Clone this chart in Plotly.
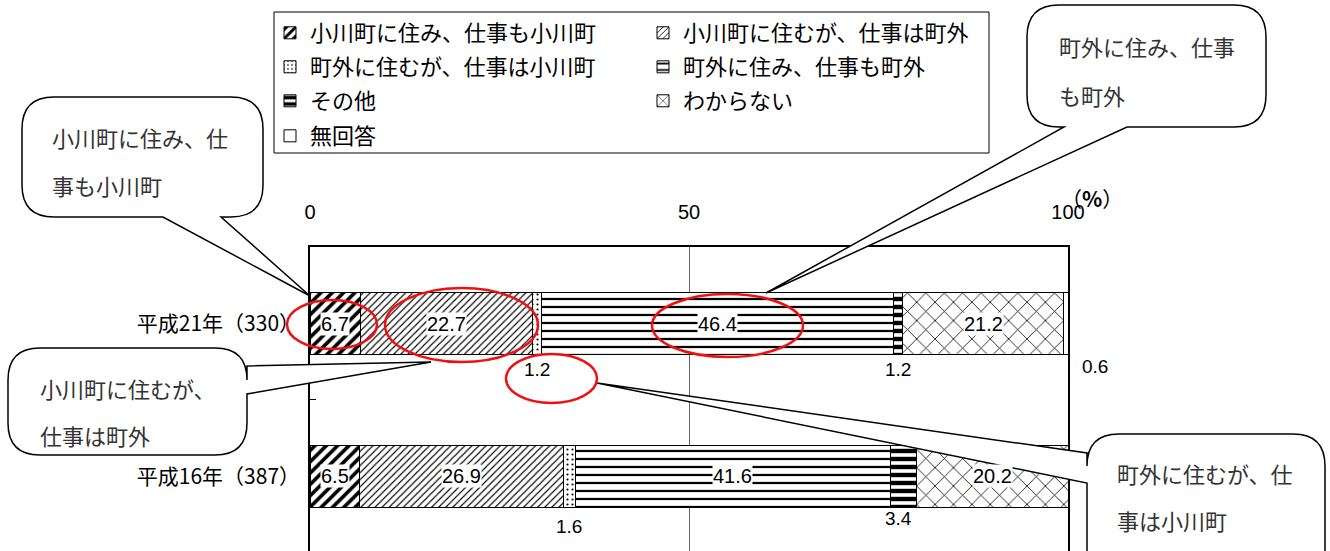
import plotly.graph_objects as go

# ---------------- data ----------------
categories = ["平成21年（330）", "平成16年（387）"]
series_names = [
    "小川町に住み、仕事も小川町",
    "小川町に住むが、仕事は町外",
    "町外に住むが、仕事は小川町",
    "町外に住み、仕事も町外",
    "その他",
    "わからない",
    "無回答",
]
h21_values = [6.7, 22.7, 1.2, 46.4, 1.2, 21.2, 0.6]
h16_values = [6.5, 26.9, 1.6, 41.6, 3.4, 20.2, 0.0]
x_ticks = [0, 50, 100]

# ---------------- style ----------------
patterns = [
    dict(shape="/", size=8, solidity=0.45),
    dict(shape="/", size=5, solidity=0.22),
    dict(shape=".", size=5, solidity=0.15),
    dict(shape="-", size=8, solidity=0.28),
    dict(shape="-", size=8, solidity=0.55),
    dict(shape="x", size=13, solidity=0.12),
    dict(shape="", size=8, solidity=0.2),
]
legend_ids = ["legend", "legend", "legend2", "legend2", "legend3", "legend3", "legend4"]
# pixel offsets for labels placed outside small segments: (xshift, yshift)
outside_offsets = {
    (0, 2): (0, -46), (0, 4): (0, -46), (0, 6): (29, -43),
    (1, 2): (0, -50), (1, 4): (-5, -42),
}

W, H = 1330, 551
L, R, T, B = 310, 1068, 247, 551


def px(x):
    return (x - L) / (R - L)


def py(y):
    return (B - y) / (B - T)


NUM_FONT = "Liberation Sans Narrow, Liberation Sans, Arial, sans-serif"
JP_FONT = "Noto Sans CJK JP, sans-serif"

fig = go.Figure()
values_by_cat = [h21_values, h16_values]
for i, name in enumerate(series_names):
    fig.add_trace(go.Bar(
        x=[h21_values[i], h16_values[i]],
        y=categories,
        orientation="h",
        name=name,
        width=0.4,
        legend=legend_ids[i],
        marker=dict(
            color="white",
            line=dict(color="black", width=1),
            pattern=dict(fgcolor="black", bgcolor="white", fillmode="replace", **patterns[i]),
        ),
        hoverinfo="skip",
    ))

annotations = []
for c, vals in enumerate(values_by_cat):
    cum = 0.0
    for i, v in enumerate(vals):
        center = cum + v / 2
        cum += v
        if v <= 0:
            continue
        if v > 5:
            annotations.append(dict(
                x=center, y=categories[c], xref="x", yref="y", text=f"{v:.1f}",
                showarrow=False, bgcolor="white", borderpad=0,
                font=dict(family=NUM_FONT, size=20, color="black")))
        else:
            xs, ys = outside_offsets.get((c, i), (0, -46))
            annotations.append(dict(
                x=center, y=categories[c], xref="x", yref="y", text=f"{v:.1f}",
                showarrow=False, xshift=xs, yshift=ys,
                font=dict(family=NUM_FONT, size=19, color="black")))

annotations.append(dict(x=px(1092), y=py(198), xref="paper", yref="paper", text="（<b>%</b>）",
                        xanchor="center", yanchor="middle",
                        showarrow=False, font=dict(family=JP_FONT, size=21, color="black")))

# speech bubbles
def bubble(x0, y0, x1, y1, r, side, b1, b2, tip):
    pts = []
    def M(x, y):
        pts.append(f"M{px(x):.5f},{py(y):.5f}")
    def Lto(x, y):
        pts.append(f"L{px(x):.5f},{py(y):.5f}")
    def Q(cx, cy, x, y):
        pts.append(f"Q{px(cx):.5f},{py(cy):.5f} {px(x):.5f},{py(y):.5f}")
    M(x0 + r, y0)
    if side == "top":
        Lto(b1, y0); Lto(*tip); Lto(b2, y0)
    Lto(x1 - r, y0); Q(x1, y0, x1, y0 + r)
    if side == "right":
        Lto(x1, b1); Lto(*tip); Lto(x1, b2)
    Lto(x1, y1 - r); Q(x1, y1, x1 - r, y1)
    if side == "bottom":
        Lto(b2, y1); Lto(*tip); Lto(b1, y1)
    Lto(x0 + r, y1); Q(x0, y1, x0, y1 - r)
    if side == "left":
        Lto(x0, b2); Lto(*tip); Lto(x0, b1)
    Lto(x0, y0 + r); Q(x0, y0, x0 + r, y0)
    pts.append("Z")
    return dict(type="path", path=" ".join(pts), xref="paper", yref="paper",
                fillcolor="white", line=dict(color="black", width=1.5), layer="above")


shapes = [
    bubble(22, 97, 263, 217, 32, "bottom", 163, 221, (310, 296)),
    bubble(1027, 5, 1266, 127, 32, "bottom", 1064, 1127, (766, 293)),
    bubble(8, 348, 247, 455, 32, "right", 366, 394, (431, 362)),
    bubble(1087, 434, 1325, 600, 32, "left", 453, 483, (597, 383)),
]
bubble_texts = [
    (50, 137, "小川町に住み、仕"), (50, 185, "事も小川町"),
    (1057, 46, "町外に住み、仕事"), (1057, 95, "も町外"),
    (38, 388, "小川町に住むが、"), (38, 435, "仕事は町外"),
    (1115, 473, "町外に住むが、仕"), (1115, 520, "事は小川町"),
]
for x, y, t in bubble_texts:
    annotations.append(dict(x=px(x), y=py(y), xref="paper", yref="paper", text=t,
                            showarrow=False, xanchor="left", yanchor="middle",
                            font=dict(family=JP_FONT, size=22, color="#333333")))

# red ellipses
for x0, y0, x1, y1 in [(287, 300, 377, 349), (385, 288, 538, 362), (652, 294, 803, 357), (506, 354, 597, 403)]:
    shapes.append(dict(type="circle", xref="paper", yref="paper",
                       x0=px(x0), x1=px(x1), y0=py(y1), y1=py(y0),
                       line=dict(color="#ee1111", width=2.5), layer="above"))

# legend frame
shapes.append(dict(type="rect", xref="paper", yref="paper", x0=px(274), x1=px(989), y0=py(153), y1=py(12),
                   line=dict(color="black", width=1), fillcolor="rgba(0,0,0,0)", layer="below"))

legend_common = dict(orientation="h", xanchor="left", yanchor="middle", entrywidth=328,
                     entrywidthmode="pixels", bgcolor="rgba(0,0,0,0)", borderwidth=0,
                     font=dict(family=JP_FONT, size=22, color="black"), itemclick=False,
                     itemdoubleclick=False, traceorder="normal")
lx = px(270)

fig.update_layout(
    width=W, height=H,
    margin=dict(l=L, r=W - R, t=T, b=H - B, pad=0),
    paper_bgcolor="white", plot_bgcolor="white",
    barmode="stack",
    showlegend=True,
    legend=dict(x=lx, y=py(33), **legend_common),
    legend2=dict(x=lx, y=py(67), **legend_common),
    legend3=dict(x=lx, y=py(101), **legend_common),
    legend4=dict(x=lx, y=py(136), **legend_common),
    xaxis=dict(range=[0, 100], side="top", tickvals=x_ticks, ticks="",
               showline=True, linecolor="black", linewidth=1.5,
               showgrid=True, gridcolor="#666666", gridwidth=1, zeroline=False,
               ticklabelstandoff=18,
               tickfont=dict(family="Liberation Sans, Arial, sans-serif", size=20, color="black")),
    yaxis=dict(type="category", categoryorder="array", categoryarray=categories,
               range=[1.487, -0.5], showline=True, mirror=True, linecolor="black", linewidth=1.5,
               ticks="inside", tickson="boundaries", ticklen=6, tickcolor="black",
               showgrid=False, zeroline=False, ticklabelstandoff=4,
               tickfont=dict(family=JP_FONT, size=21, color="black")),
    shapes=shapes,
    annotations=annotations,
)

fig.write_html("out.html", config={"displayModeBar": False},
               post_script="document.body.style.margin='0';")
